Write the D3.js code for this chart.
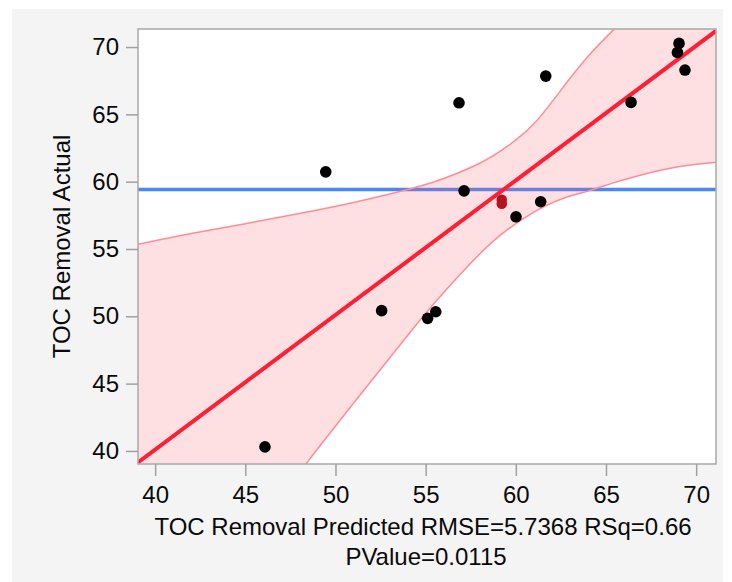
<!DOCTYPE html>
<html>
<head>
<meta charset="utf-8">
<script src="https://cdn.jsdelivr.net/npm/d3@7"></script>
<style>
  body { margin: 0; background: #ffffff; }
  text { font-family: "Liberation Sans", Arial, Helvetica, sans-serif; }
</style>
</head>
<body>
<script>
// valores
const predicted = [46.09, 52.56, 55.11, 55.56, 49.46, 56.85, 61.66, 57.13, 60.01, 61.38, 66.39, 69.05, 68.96, 69.38]
const actual    = [40.30, 50.42, 49.85, 50.34, 60.73, 65.86, 67.84, 59.32, 57.39, 58.51, 65.89, 70.27, 69.60, 68.29]
// los dos puntos marcados en rojo oscuro
const selPredicted = [59.22, 59.22]
const selActual    = [58.66, 58.36]

const meanActual = 59.42
const fitX = [39.05, 71.1]
const fitY = [39.15, 71.2]

// curvas de confianza
const bandX     = [39.05, 42, 45, 48, 51, 54, 56, 58, 59.5, 61, 62.5, 64, 65.5, 67, 69, 71.1]
const bandUpper = [55.35, 56.15, 56.88, 57.64, 58.46, 59.42, 60.24, 61.37, 62.6, 64.3, 66.8, 69.3, 71.4, 73.5, 76.2, 78.5]
const bandLower = [22.6, 27.9, 33.1, 38.4, 43.54, 48.58, 51.76, 54.63, 56.4, 57.74, 58.7, 59.3, 59.95, 60.52, 61.11, 61.45]

const xTicks = [40, 45, 50, 55, 60, 65, 70]
const yTicks = [40, 45, 50, 55, 60, 65, 70]

const xLabel = "TOC Removal Predicted RMSE=5.7368 RSq=0.66"
const xLabel2 = "PValue=0.0115"
const yLabel = "TOC Removal Actual"

var width = 732
var height = 582
var plot = { left: 138, right: 716, top: 29, bottom: 464 }
var fs = "24px"

var svg = d3.select("body")
    .append("svg")
        .attr("width", width)
        .attr("height", height)

// fondo gris
svg.append("rect")
    .attr("x", 12).attr("y", 9)
    .attr("width", 711).attr("height", 573)
    .attr("fill", "#f4f4f4")

var x = d3.scaleLinear()
    .domain([39.05, 71.1])
    .range([plot.left, plot.right])
var y = d3.scaleLinear()
    .domain([39.03, 71.34])
    .range([plot.bottom, plot.top])

svg.append("clipPath").attr("id", "clip")
    .append("rect")
        .attr("x", plot.left).attr("y", plot.top)
        .attr("width", plot.right - plot.left).attr("height", plot.bottom - plot.top)

svg.append("rect")
    .attr("x", plot.left).attr("y", plot.top)
    .attr("width", plot.right - plot.left).attr("height", plot.bottom - plot.top)
    .attr("fill", "#ffffff")

var g = svg.append("g").attr("clip-path", "url(#clip)")

// linea de la media
g.append("line")
    .attr("x1", plot.left).attr("x2", plot.right)
    .attr("y1", y(meanActual)).attr("y2", y(meanActual))
    .attr("stroke", "#4a86f5")
    .attr("stroke-width", 3.5)

var band = bandX.map((d, i) => ({ x: d, lo: bandLower[i], hi: bandUpper[i] }))

var area = d3.area()
    .x(d => x(d.x))
    .y0(d => y(d.lo))
    .y1(d => y(d.hi))
    .curve(d3.curveNatural)

g.append("path")
    .datum(band)
    .attr("fill", "rgb(255,100,110)")
    .attr("fill-opacity", 0.2)
    .attr("d", area)

var lineHi = d3.line().x(d => x(d.x)).y(d => y(d.hi)).curve(d3.curveNatural)
var lineLo = d3.line().x(d => x(d.x)).y(d => y(d.lo)).curve(d3.curveNatural)

g.append("path").datum(band)
    .attr("fill", "none").attr("stroke", "#ff8c96").attr("stroke-width", 1.5)
    .attr("d", lineHi)
g.append("path").datum(band)
    .attr("fill", "none").attr("stroke", "#ff8c96").attr("stroke-width", 1.5)
    .attr("d", lineLo)

// recta de ajuste
g.append("line")
    .attr("x1", x(fitX[0])).attr("y1", y(fitY[0]))
    .attr("x2", x(fitX[1])).attr("y2", y(fitY[1]))
    .attr("stroke", "#ff1f35")
    .attr("stroke-width", 4)

// puntos
svg.selectAll(".pt")
    .data(predicted)
    .enter().append("circle")
        .attr("cx", d => x(d))
        .attr("cy", (d, i) => y(actual[i]))
        .attr("r", 5.8)
        .attr("fill", "#000000")

svg.selectAll(".sel")
    .data(selPredicted)
    .enter().append("circle")
        .attr("cx", d => x(d))
        .attr("cy", (d, i) => y(selActual[i]))
        .attr("r", 5.3)
        .attr("fill", "#b5121f")

// marco
svg.append("rect")
    .attr("x", plot.left).attr("y", plot.top)
    .attr("width", plot.right - plot.left).attr("height", plot.bottom - plot.top)
    .attr("fill", "none")
    .attr("stroke", "#a8a8a8")
    .attr("stroke-width", 1.5)

//EJE X
var ejeX = svg.append("g")
    .attr("transform", "translate(0," + plot.bottom + ")")
    .call(d3.axisBottom(x).tickValues(xTicks).tickSize(12).tickPadding(10))
//EJE Y
var ejeY = svg.append("g")
    .attr("transform", "translate(" + plot.left + ",0)")
    .call(d3.axisLeft(y).tickValues(yTicks).tickSize(12).tickPadding(7))

svg.selectAll(".domain").remove()
svg.selectAll(".tick line").attr("stroke", "#a0a0a0").attr("stroke-width", 1.5)
svg.selectAll(".tick text")
    .attr("font-size", fs)
    .attr("fill", "#0a0a0a")
    .style("font-family", "'Liberation Sans', Arial, sans-serif")

svg.append("text")
    .attr("x", (plot.left + plot.right) / 2 - 4)
    .attr("y", 535)
    .attr("text-anchor", "middle")
    .attr("font-size", fs)
    .attr("fill", "#0a0a0a")
    .text(xLabel)
svg.append("text")
    .attr("x", (plot.left + plot.right) / 2 - 1)
    .attr("y", 565)
    .attr("text-anchor", "middle")
    .attr("font-size", fs)
    .attr("fill", "#0a0a0a")
    .text(xLabel2)

svg.append("text")
    .attr("transform", "translate(70," + ((plot.top + plot.bottom) / 2) + ") rotate(-90)")
    .attr("text-anchor", "middle")
    .attr("font-size", fs)
    .attr("fill", "#0a0a0a")
    .text(yLabel)
</script>
</body>
</html>
